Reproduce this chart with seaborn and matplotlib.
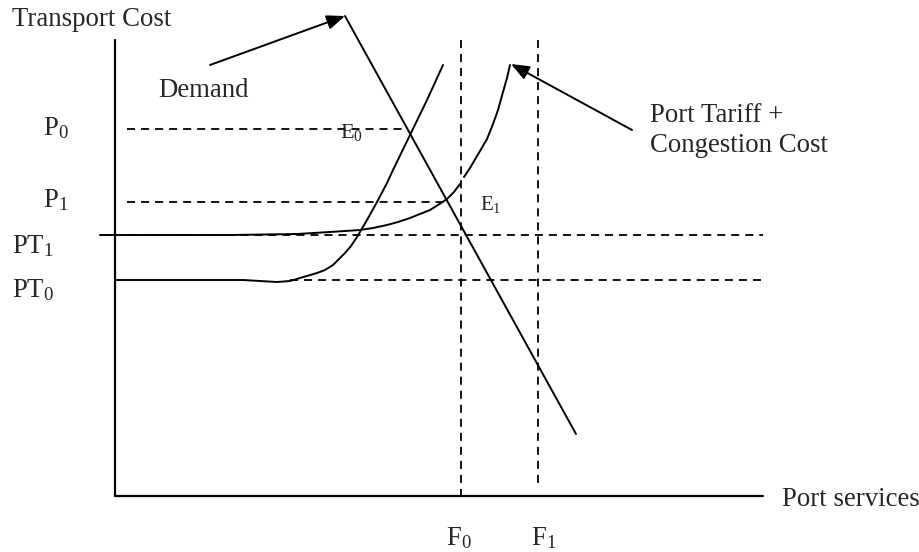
#%%

import numpy as np
import pandas as pd
import matplotlib.pyplot as plt
import seaborn as sns

# %%
# schematic, in pixel units (y grows downwards)

demand_x = [345, 576]
demand_y = [16, 434]

# steep curve starting at PT0
s0_x = [115, 243, 260, 277, 290, 300, 317, 325, 333, 338, 345, 351, 357, 367, 377, 387, 393, 410, 427, 443]
s0_y = [280, 280, 281, 282, 281, 278, 273, 270, 265, 260, 253, 246, 237, 220, 202, 183, 170, 135, 100, 65]

# port tariff + congestion cost, lower and upper piece
s1_x = [100, 230, 297, 330, 360, 373, 387, 398, 410, 420, 430, 438, 447, 454, 460]
s1_y = [235, 235, 234, 232, 230, 228, 225, 222, 218, 214, 210, 205, 199, 192, 184]
s1_top_x = [464, 470, 480, 487, 493, 498, 503, 507, 510]
s1_top_y = [177, 168, 151, 139, 124, 110, 92, 78, 65]

# price levels and flows
price_labels = ['P$_0$', 'P$_1$', 'PT$_1$', 'PT$_0$']
price_levels = [129, 202, 235, 280]
price_dash_start = [127, 127, 100, 290]
price_dash_end = [408, 447, 763, 763]

flow_labels = ['F$_0$', 'F$_1$']
flow_levels = [461, 538]
flow_dash_end = [496, 483]

#%%

sns.set_theme(style='white')
plt.rcParams['font.family'] = ['Liberation Serif', 'DejaVu Serif']
plt.rcParams['mathtext.fontset'] = 'custom'
plt.rcParams['mathtext.rm'] = 'Liberation Serif'
plt.rcParams['mathtext.it'] = 'Liberation Serif:italic'
plt.rcParams['lines.scale_dashes'] = False

fig = plt.figure(figsize=(9.2, 5.52), dpi=100)
ax = fig.add_axes([0, 0, 1, 1])
ax.set_xlim(0, 920)
ax.set_ylim(552, 0)
ax.axis('off')

dash = (0, (5.8, 4.3))

# dashed guides
ax.hlines(price_levels, price_dash_start, price_dash_end, colors='black', linewidth=1.3, linestyles=[dash])
ax.vlines(flow_levels, 40, flow_dash_end, colors='black', linewidth=1.3, linestyles=[dash])

# axes of the diagram
ax.plot([115, 115], [40, 496], color='black', linewidth=1.6)
ax.plot([115, 763], [496, 496], color='black', linewidth=1.6)

# curves
for xs, ys in [(demand_x, demand_y), (s0_x, s0_y), (s1_x, s1_y), (s1_top_x, s1_top_y)]:
    sns.lineplot(x=xs, y=ys, sort=False, estimator=None, color='black', linewidth=1.4, ax=ax)

# arrows
arrow = dict(arrowstyle='-|>,head_length=0.55,head_width=0.22', color='black', lw=1.4,
             mutation_scale=20, shrinkA=0, shrinkB=0)
ax.annotate('', xy=(345, 16), xytext=(210, 65), arrowprops=arrow)
ax.annotate('', xy=(511, 64), xytext=(632, 130), arrowprops=arrow)

# text
fs = 19.3
ax.text(12, 26, 'Transport Cost', fontsize=fs, va='baseline')
ax.text(158, 97, 'Demand', fontsize=fs, va='baseline')
ax.text(650, 122, 'Port Tariff +', fontsize=fs, va='baseline')
ax.text(650, 152, 'Congestion Cost', fontsize=fs, va='baseline')
ax.text(782, 506, 'Port services', fontsize=fs, va='baseline')

label_x = [43, 43, 12, 12]
label_y = [135, 207, 253, 297]
for lab, x, y in zip(price_labels, label_x, label_y):
    ax.text(x, y, lab, fontsize=fs, va='baseline')

for lab, x in zip(flow_labels, [446, 531]):
    ax.text(x, 545, lab, fontsize=fs, va='baseline')

ax.text(340, 138, 'E$_0$', fontsize=16, va='baseline')
ax.text(480, 210, 'E$_1$', fontsize=15, va='baseline')

plt.savefig('out.png', dpi=100)
